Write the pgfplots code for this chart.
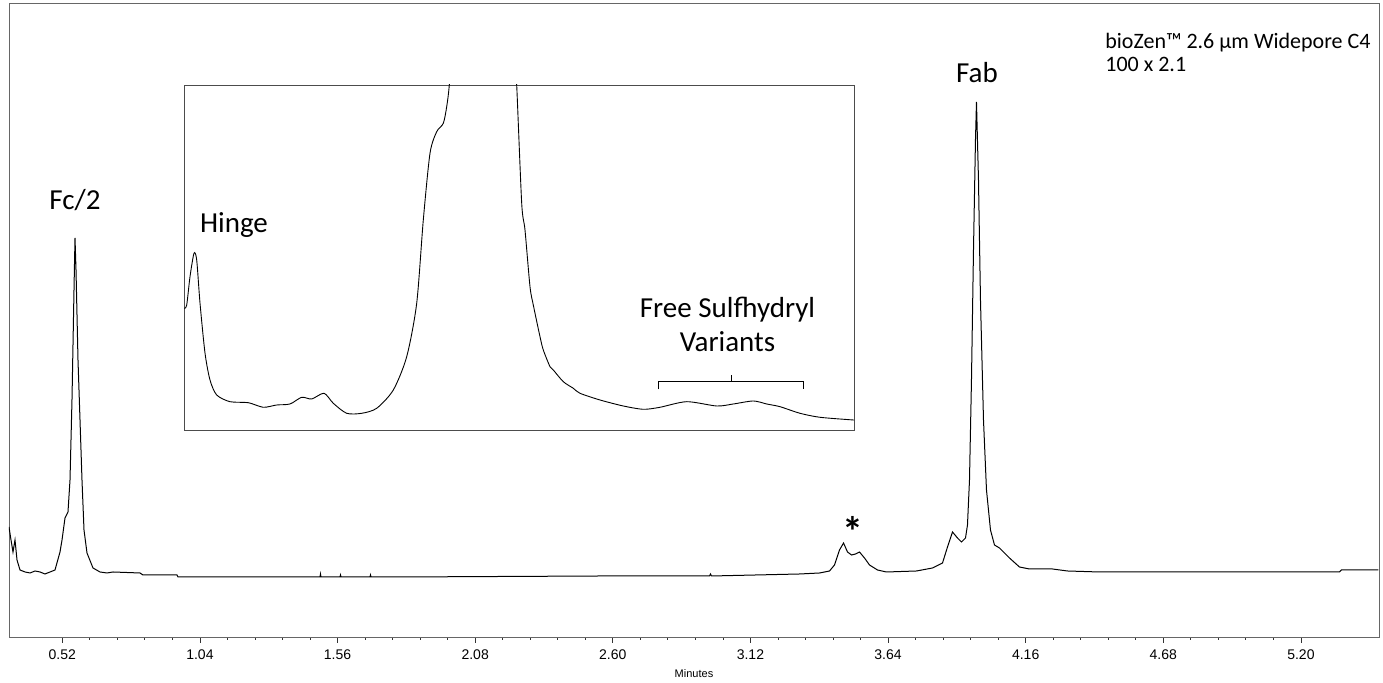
\documentclass[border=0pt]{standalone}
\usepackage{fontspec}
\setmainfont{Carlito}
\newfontfamily\arialfont{Liberation Sans}
\usepackage{pgfplots}
\pgfplotsset{compat=1.18}

% main trace: time (min), signal (arbitrary)
\pgfplotstableread{
t s
0.3186 48
0.3262 35
0.3337 23
0.3413 35
0.3489 15
0.3602 5
0.3791 3
0.3980 2
0.4169 4
0.4358 3
0.4546 1
0.4735 3
0.4924 5
0.5113 23
0.5189 35
0.5302 57
0.5415 63
0.5491 95
0.5566 175
0.5642 285
0.5680 337
0.5718 305
0.5793 215
0.5869 155
0.5944 95
0.6020 45
0.6133 22
0.6360 7
0.6624 3
0.6889 2
0.7115 3
0.8136 2
0.8249 0
0.9534 0
0.9572 -2
1.4936 -2
1.4955 1
1.4974 -2
1.5692 -2
1.5711 0
1.5730 -2
1.6826 -2
1.6845 0
1.6864 -2
1.7943 -2
2.5499 -1
2.9654 -1
2.9692 1
2.9730 -1
3.3054 1
3.3810 2
3.4188 4
3.4377 10
3.4566 25
3.4717 32
3.4868 23
3.5019 20
3.5170 21
3.5321 23
3.5510 17
3.5699 10
3.6001 5
3.6341 3
3.7475 4
3.8079 7
3.8457 12
3.8646 28
3.8835 43
3.9024 37
3.9175 33
3.9326 37
3.9401 50
3.9477 95
3.9552 195
3.9628 325
3.9703 435
3.9741 473
3.9817 395
3.9892 275
4.0006 155
4.0119 85
4.0270 45
4.0421 30
4.0610 27
4.0988 17
4.1365 8
4.1743 6
4.2612 6
4.3179 4
4.4388 3
5.3455 3
5.3531 5
5.4928 5
}\maintrace

% inset trace: local units
\pgfplotstableread{
x y
0 121.7
2.7 125
6 153.3
10 176.7
12.7 170
16 127
21 77
26 50
32.7 35
46 28.3
64.3 27.3
79.3 22.7
92.7 25
106 26
117.7 32.7
127.7 31
140 36.7
149.3 26.7
162.7 16.7
177.7 16.7
192.7 21.7
209.3 40
222.7 73.3
232.7 126.7
239.3 210
246 276.7
252.7 298.3
259.3 306.7
262.7 323.3
265.3 345
268 390
299 800
330 390
332.7 345
337.7 226.7
341 200
346 143.3
349.3 125
356 93.3
359.3 80
366 63.3
369.3 60
379.3 48.3
389.3 41.7
396 36.7
416 30
439.3 24
459.3 20.7
476 22.7
502.7 28.3
532.7 24
549.3 26
569.3 29
582.7 26
596 23.3
616 16.7
636 12.7
669.3 10
670 10
}\insettrace

\begin{document}
\begin{tikzpicture}
\useasboundingbox (-4.5pt,-23pt) rectangle (687pt,318.5pt);
\begin{axis}[
  at={(0pt,0pt)}, anchor=south west,
  scale only axis, width=685pt, height=317pt,
  xmin=0.3186, xmax=5.495, ymin=-62, ymax=572,
  xtick={0.52,1.04,1.56,2.08,2.60,3.12,3.64,4.16,4.68,5.20},
  minor x tick num=4,
  ytick=\empty,
  xtick pos=left, tick align=outside,
  major tick length=3pt, minor tick length=1.5pt,
  axis line style={black!60},
  tick style={black!80, line width=0.4pt},
  xticklabel style={font=\arialfont\fontsize{7}{8}\selectfont,
    /pgf/number format/fixed, /pgf/number format/fixed zerofill,
    /pgf/number format/precision=2,
    /pgf/number format/assume math mode=true},
  xlabel={Minutes},
  xlabel style={font=\arialfont\fontsize{5.5}{6}\selectfont, yshift=2pt},
]
\addplot[black, line width=0.5pt, no marks] table[x=t, y=s] {\maintrace};
\end{axis}

\begin{axis}[
  at={(87.5pt,103.5pt)}, anchor=south west,
  scale only axis, width=335pt, height=172.5pt,
  xmin=0, xmax=670, ymin=0, ymax=345,
  ticks=none,
  axis line style={black!70},
  axis background/.style={fill=white},
]
\addplot[black, line width=0.45pt, no marks, smooth, tension=0.45] table[x=x, y=y] {\insettrace};
\end{axis}

\begin{scope}[font=\fontsize{14.5}{17}\selectfont]
\node at (33pt,218.5pt) {Fc/2};
\node at (484pt,282pt) {Fab};
\node at (112.5pt,206pt) {Hinge};
\node at (359.25pt,163.5pt) {Free Sulfhydryl};
\node at (359.25pt,147.6pt) {Variants};
\node[font=\fontsize{21}{21}\selectfont\bfseries] at (422pt,53pt) {*};
\end{scope}
\draw[black, line width=0.45pt] (324.65pt,123.85pt) -- (324.65pt,127.65pt) -- (397.15pt,127.65pt) -- (397.15pt,123.85pt);
\draw[black, line width=0.45pt] (361pt,127.65pt) -- (361pt,131pt);
\node[anchor=base west, font=\fontsize{11}{13}\selectfont, inner sep=0pt] at (548pt,294pt) {bioZen™ 2.6 µm Widepore C4};
\node[anchor=base west, font=\fontsize{11}{13}\selectfont, inner sep=0pt] at (548pt,282.5pt) {100 x 2.1};
\end{tikzpicture}
\end{document}
